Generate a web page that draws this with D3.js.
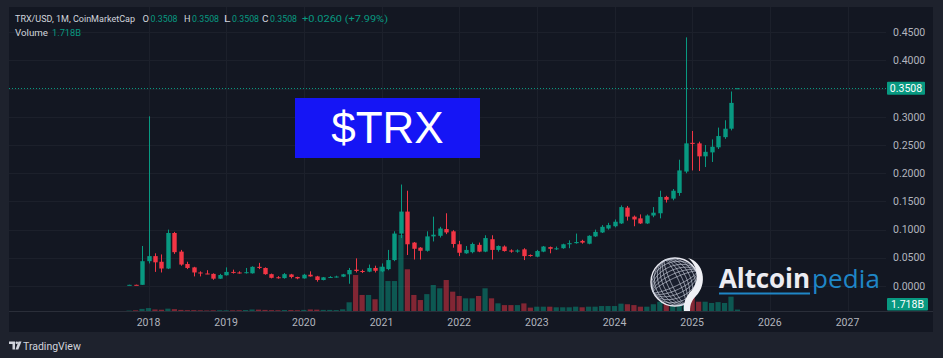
<!DOCTYPE html>
<html><head><meta charset="utf-8">
<script src="https://cdn.jsdelivr.net/npm/d3@7/dist/d3.min.js"></script>
<style>
html,body{margin:0;padding:0;background:#1e222d;}
svg{display:block;font-family:Roboto,"Liberation Sans",sans-serif;}
</style></head>
<body><svg id="c" width="943" height="358"></svg>
<script>
// ---- DATA (monthly candles, TRX/USD, CoinMarketCap) ----
const months = [
 "2017-10","2017-11","2017-12",
 "2018-01","2018-02","2018-03","2018-04","2018-05","2018-06","2018-07","2018-08","2018-09","2018-10","2018-11","2018-12",
 "2019-01","2019-02","2019-03","2019-04","2019-05","2019-06","2019-07","2019-08","2019-09","2019-10","2019-11","2019-12",
 "2020-01","2020-02","2020-03","2020-04","2020-05","2020-06","2020-07","2020-08","2020-09","2020-10","2020-11","2020-12",
 "2021-01","2021-02","2021-03","2021-04","2021-05","2021-06","2021-07","2021-08","2021-09","2021-10","2021-11","2021-12",
 "2022-01","2022-02","2022-03","2022-04","2022-05","2022-06","2022-07","2022-08","2022-09","2022-10","2022-11","2022-12",
 "2023-01","2023-02","2023-03","2023-04","2023-05","2023-06","2023-07","2023-08","2023-09","2023-10","2023-11","2023-12",
 "2024-01","2024-02","2024-03","2024-04","2024-05","2024-06","2024-07","2024-08","2024-09","2024-10","2024-11","2024-12",
 "2025-01","2025-02","2025-03","2025-04","2025-05","2025-06","2025-07","2025-08"
];
const opens = [
 0.0019,0.0021,0.0021,
 0.044,0.053,0.043,0.031,0.094,0.061,0.039,0.033,0.024,0.0222,0.0215,0.0130,
 0.0190,0.025,0.024,0.0235,0.0225,0.034,0.032,0.021,0.0155,0.014,0.0205,0.016,
 0.0135,0.020,0.017,0.0106,0.0154,0.0160,0.0166,0.0207,0.0290,0.0266,0.0255,0.032,
 0.026,0.030,0.046,0.093,0.132,0.077,0.068,0.0625,0.088,0.089,0.101,0.097,
 0.074,0.058,0.060,0.073,0.061,0.083,0.064,0.070,0.063,0.061,0.065,0.055,
 0.052,0.061,0.069,0.0655,0.067,0.074,0.076,0.080,0.075,0.088,0.095,0.102,
 0.106,0.111,0.139,0.123,0.120,0.111,0.125,0.129,0.158,0.155,0.165,0.203,
 0.254,0.253,0.230,0.237,0.246,0.264,0.279,0.3508
];
const highs = [
 0.0022,0.0024,0.071,
 0.301,0.058,0.056,0.100,0.096,0.064,0.043,0.034,0.026,0.028,0.0225,0.0215,
 0.033,0.029,0.026,0.032,0.035,0.041,0.033,0.022,0.0175,0.023,0.0215,0.0165,
 0.0215,0.026,0.018,0.0160,0.0175,0.0182,0.0215,0.032,0.049,0.029,0.038,0.036,
 0.040,0.064,0.097,0.180,0.169,0.078,0.069,0.097,0.123,0.105,0.129,0.099,
 0.080,0.071,0.077,0.077,0.090,0.090,0.072,0.072,0.065,0.065,0.067,0.056,
 0.064,0.071,0.070,0.070,0.075,0.081,0.093,0.082,0.090,0.100,0.108,0.112,
 0.118,0.143,0.142,0.125,0.127,0.127,0.140,0.169,0.160,0.172,0.224,0.441,
 0.275,0.256,0.250,0.260,0.281,0.294,0.345,0.3508
];
const lows = [
 0.0017,0.0018,0.0020,
 0.040,0.025,0.024,0.030,0.057,0.036,0.030,0.017,0.017,0.021,0.011,0.0125,
 0.0185,0.022,0.022,0.022,0.022,0.030,0.020,0.0135,0.0130,0.013,0.0135,0.012,
 0.013,0.0165,0.0077,0.0100,0.0143,0.0150,0.0158,0.004,0.024,0.023,0.0245,0.024,
 0.0245,0.028,0.044,0.085,0.055,0.047,0.047,0.061,0.079,0.086,0.092,0.068,
 0.053,0.057,0.058,0.060,0.060,0.047,0.061,0.061,0.059,0.059,0.046,0.052,
 0.051,0.060,0.058,0.064,0.066,0.067,0.075,0.075,0.074,0.087,0.094,0.100,
 0.104,0.110,0.116,0.106,0.110,0.110,0.122,0.120,0.148,0.152,0.160,0.200,
 0.205,0.204,0.211,0.220,0.243,0.261,0.276,0.3508
];
const closes = [
 0.0021,0.0020,0.044,
 0.053,0.042,0.031,0.094,0.060,0.038,0.032,0.024,0.0222,0.0215,0.0130,0.0195,
 0.025,0.024,0.0235,0.0245,0.034,0.032,0.021,0.0145,0.0140,0.021,0.016,0.0135,
 0.020,0.0170,0.0106,0.0154,0.0160,0.0168,0.0207,0.0284,0.0266,0.0255,0.032,0.027,
 0.034,0.046,0.093,0.132,0.074,0.066,0.0625,0.088,0.091,0.102,0.095,0.0745,
 0.059,0.064,0.0745,0.061,0.085,0.064,0.071,0.062,0.061,0.063,0.053,0.0535,
 0.062,0.070,0.066,0.0668,0.074,0.076,0.078,0.077,0.089,0.096,0.105,0.108,
 0.114,0.140,0.123,0.118,0.111,0.125,0.130,0.158,0.153,0.169,0.205,0.253,
 0.252,0.230,0.238,0.247,0.266,0.279,0.3248,0.3508
];
const volumes = [ // billions USD
 0.5,0.8,2.5,
 3.5,1.8,1.5,2.8,2.2,1.3,1.0,1.0,0.8,0.6,0.8,0.9,
 0.8,0.8,0.9,1.2,1.8,1.6,1.3,1.0,0.9,1.2,1.1,0.9,
 1.3,1.8,1.6,1.3,1.3,1.1,2.0,10.3,42.6,19,19,13.9,
 52.5,35.5,35.5,90,49.4,19,13,20,30.8,26.9,36.7,22.9,
 17.8,15,15,17.8,26.9,15,9.1,7,7,7,9,4,
 5.1,5.1,5.1,4.4,4.4,4.4,5.1,4.4,5.1,5.1,5.9,5.9,
 5.9,8.7,8,7,5.1,5.1,8,11,9,8,21,26,
 17,11,11,9.5,10.5,9.5,17,1.718
];
const priceTicks = [0,0.05,0.10,0.15,0.20,0.25,0.30,0.40,0.45];
const yearLabels = ["2018","2019","2020","2021","2022","2023","2024","2025","2026","2027"];
const lastPrice = 0.3508;
const lastChange = "+0.0260 (+7.99%)";
const lastVolumeLabel = "1.718B";

// ---- COLORS ----
const UP = "#089981", DOWN = "#f23645";
const svg = d3.select("#c");

// pane
svg.append("rect").attr("x",9).attr("y",7).attr("width",924).attr("height",325).attr("fill","#131722");

// scales: month index from Jan 2018
const mIndex = s => { const [yy,m] = s.split("-").map(Number); return (yy-2018)*12 + (m-1); };
const x = d3.scaleLinear().domain([0,108]).range([148.5,847.5]);
const y = d3.scaleLinear().domain([0,0.45]).range([286,32.3]);
const yv = d3.scaleLinear().domain([0,90]).range([311,235]);
const plotL = 9, plotR = 886;

const data = months.map((m,i)=>({i:mIndex(m),o:opens[i],h:highs[i],l:lows[i],c:closes[i],v:volumes[i]}));

// grid
const grid = svg.append("g").attr("stroke","#1c202b").attr("stroke-width",1);
priceTicks.concat([0.35]).forEach(t=>{
  grid.append("line").attr("x1",plotL).attr("x2",plotR).attr("y1",Math.round(y(t))+0.5).attr("y2",Math.round(y(t))+0.5);
});
yearLabels.forEach((lab,k)=>{
  const xx = Math.round(x(k*12))+0.5;
  grid.append("line").attr("x1",xx).attr("x2",xx).attr("y1",7).attr("y2",311);
});

// volume bars
svg.append("g").selectAll("rect").data(data).join("rect")
  .attr("x",d=>x(d.i)-2.6).attr("width",5.2)
  .attr("y",d=>yv(d.v)).attr("height",d=>Math.max(0.8,311-yv(d.v)))
  .attr("fill",d=>d.c>=d.o?UP:DOWN).attr("opacity",0.5);

// candles
const cg = svg.append("g");
cg.selectAll("line").data(data).join("line")
  .attr("x1",d=>Math.round(x(d.i))+0.5).attr("x2",d=>Math.round(x(d.i))+0.5)
  .attr("y1",d=>y(d.h)).attr("y2",d=>y(d.l))
  .attr("stroke",d=>d.c>=d.o?UP:DOWN).attr("stroke-width",1);
cg.selectAll("rect").data(data).join("rect")
  .attr("x",d=>Math.round(x(d.i))-1.7).attr("width",4.4)
  .attr("y",d=>y(Math.max(d.o,d.c)))
  .attr("height",d=>Math.max(1,Math.abs(y(d.o)-y(d.c))))
  .attr("fill",d=>d.c>=d.o?UP:DOWN);

// last price dotted line
svg.append("line").attr("x1",plotL).attr("x2",plotR)
  .attr("y1",Math.round(y(lastPrice))+0.5).attr("y2",Math.round(y(lastPrice))+0.5)
  .attr("stroke",UP).attr("stroke-width",1).attr("stroke-dasharray","1,2");

// price axis labels
const ax = svg.append("g").attr("font-size","10.5px").attr("fill","#b2b5be");
priceTicks.forEach(t=>{
  ax.append("text").attr("x",893).attr("y",y(t)).attr("dy","0.35em").text(t.toFixed(4));
});
// last price label
svg.append("rect").attr("x",887).attr("y",y(lastPrice)-6.5).attr("width",38).attr("height",13).attr("fill",UP).attr("rx",1);
svg.append("text").attr("x",906).attr("y",y(lastPrice)).attr("dy","0.35em").attr("text-anchor","middle")
  .attr("font-size","10.5px").attr("fill","#ffffff").text(lastPrice.toFixed(4));
// volume label
svg.append("rect").attr("x",887).attr("y",298).attr("width",41).attr("height",12.5).attr("fill",UP).attr("rx",1);
svg.append("text").attr("x",907.5).attr("y",304.3).attr("dy","0.35em").attr("text-anchor","middle")
  .attr("font-size","10.5px").attr("fill","#ffffff").text(lastVolumeLabel);

// x axis
svg.append("line").attr("x1",plotL).attr("x2",933).attr("y1",311.5).attr("y2",311.5).attr("stroke","#2a2e39");
const xa = svg.append("g").attr("font-size","10.5px").attr("fill","#b2b5be").attr("text-anchor","middle");
yearLabels.forEach((lab,k)=>{
  xa.append("text").attr("x",x(k*12)).attr("y",322).attr("dy","0.35em").text(lab);
});

// header
const hd = svg.append("g").attr("font-size","9.3px");
hd.append("text").attr("x",15).attr("y",19).attr("dy","0.35em").attr("fill","#d1d4dc").attr("font-size","9px")
  .attr("textLength",120).attr("lengthAdjust","spacingAndGlyphs").text("TRX/USD, 1M, CoinMarketCap");
const ohlc = [["O",142.5],["H",184],["L",224],["C",262]];
ohlc.forEach(([k,px])=>{
  hd.append("text").attr("x",px).attr("y",19).attr("dy","0.35em").attr("fill","#d1d4dc")
    .attr("textLength",6.5).attr("lengthAdjust","spacingAndGlyphs").text(k);
  hd.append("text").attr("x",px+8).attr("y",19).attr("dy","0.35em").attr("fill",UP)
    .attr("textLength",27).attr("lengthAdjust","spacingAndGlyphs").text(lastPrice.toFixed(4));
});
hd.append("text").attr("x",302).attr("y",19).attr("dy","0.35em").attr("fill",UP)
  .attr("textLength",86).attr("lengthAdjust","spacingAndGlyphs").text(lastChange);
hd.append("text").attr("x",15).attr("y",33).attr("dy","0.35em").attr("fill","#d1d4dc")
  .attr("textLength",33).attr("lengthAdjust","spacingAndGlyphs").text("Volume");
hd.append("text").attr("x",52).attr("y",33).attr("dy","0.35em").attr("fill",UP)
  .attr("textLength",29).attr("lengthAdjust","spacingAndGlyphs").text(lastVolumeLabel);

// $TRX badge
svg.append("rect").attr("x",295).attr("y",98).attr("width",185).attr("height",60).attr("fill","#1515f5");
svg.append("text").attr("x",387.5).attr("y",128).attr("dy","0.35em").attr("text-anchor","middle")
  .attr("font-family","'Liberation Sans',Arial,sans-serif").attr("font-size","44px").attr("fill","#ffffff").text("$TRX");

// Altcoinpedia watermark
const lg = svg.append("g");
const cx0 = 675, cy0 = 282, r0 = 24;
lg.append("circle").attr("cx",cx0).attr("cy",cy0).attr("r",r0).attr("fill","#1a1f2e").attr("stroke","#e8e8f0").attr("stroke-width",1.4);
for (let k=1;k<6;k++){
  lg.append("ellipse").attr("cx",cx0).attr("cy",cy0).attr("rx",r0*k/6).attr("ry",r0)
    .attr("fill","none").attr("stroke","#cfd3e0").attr("stroke-width",0.7).attr("opacity",0.8)
    .attr("transform",`rotate(-25 ${cx0} ${cy0})`);
  lg.append("ellipse").attr("cx",cx0).attr("cy",cy0).attr("rx",r0).attr("ry",r0*k/6)
    .attr("fill","none").attr("stroke","#cfd3e0").attr("stroke-width",0.7).attr("opacity",0.8)
    .attr("transform",`rotate(-25 ${cx0} ${cy0})`);
}
lg.append("path").attr("d","M688,258 C704,262 708,284 696,296 C692,300 690,304 690,311 L684,311 C683,303 686,296 692,290 C700,280 698,266 688,258 Z")
  .attr("fill","#f0f0f5");
lg.append("text").attr("x",719).attr("y",288).attr("font-family","'Open Sans',sans-serif").attr("font-weight",700)
  .attr("font-size","26px").attr("fill","#ececf2").attr("textLength",91).text("Altcoin");
lg.append("text").attr("x",812).attr("y",288).attr("font-family","'Open Sans',sans-serif").attr("font-weight",400)
  .attr("font-size","26px").attr("fill","#1f86c6").attr("textLength",68).text("pedia");
lg.append("line").attr("x1",719).attr("x2",810).attr("y1",293.5).attr("y2",293.5).attr("stroke","#1f86c6").attr("stroke-width",1.8);

// TradingView footer
const tv = svg.append("g").attr("fill","#d1d4dc");
tv.append("path").attr("d","M9,341.5 h6 v8 h-2.5 v-5.5 h-3.5 Z");
tv.append("circle").attr("cx",16.8).attr("cy",342.8).attr("r",1.3);
tv.append("path").attr("d","M18.5,341.5 h3 l-3.2,8 h-2.8 Z");
tv.append("text").attr("x",23).attr("y",346).attr("dy","0.35em").attr("font-size","10.5px").text("TradingView");
</script></body></html>
